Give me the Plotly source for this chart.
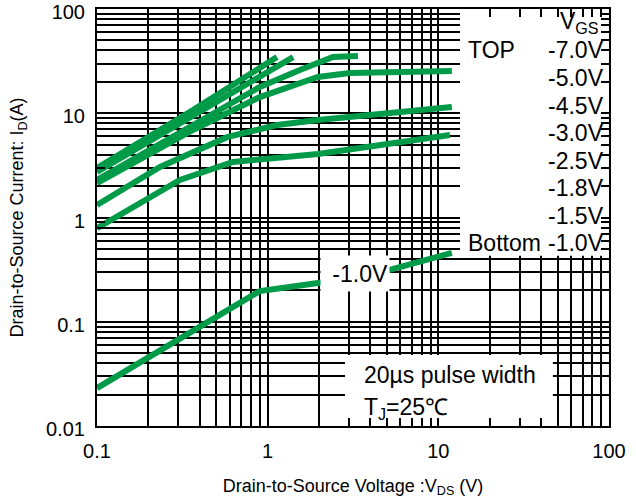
import math
import plotly.graph_objects as go

# Output characteristics (VDS in V, ID in A)
vgs_labels = ["-7.0V", "-5.0V", "-4.5V", "-3.0V", "-2.5V", "-1.8V", "-1.0V"]

vds_m70 = [0.1, 0.365, 1.134]
id_m70 = [2.98, 10.7, 34.6]

vds_m50 = [0.1, 0.365, 0.9, 1.41]
id_m50 = [2.73, 9.62, 22.3, 34.6]

vds_m45 = [0.1, 0.365, 0.9, 1.545, 1.97, 2.41, 3.38]
id_m45 = [2.29, 7.71, 17.9, 26.0, 31.0, 34.6, 35.4]

vds_m30 = [0.1, 0.365, 0.9, 1.97, 3.03, 12.0]
id_m30 = [2.14, 6.91, 14.3, 22.3, 24.3, 25.4]

vds_m25 = [0.1, 0.234, 0.578, 1.134, 1.97, 12.0]
id_m25 = [1.32, 3.05, 5.9, 7.71, 8.61, 11.5]

vds_m18 = [0.1, 0.306, 0.626, 1.97, 11.7]
id_m18 = [0.79, 2.29, 3.41, 4.06, 6.18]

vds_m10 = [0.1, 0.2, 0.9, 1.97, 4.0, 12.0]
id_m10 = [0.0231, 0.0459, 0.197, 0.235, 0.28, 0.457]

series = [
    (vds_m70, id_m70), (vds_m50, id_m50), (vds_m45, id_m45), (vds_m30, id_m30),
    (vds_m25, id_m25), (vds_m18, id_m18), (vds_m10, id_m10),
]

legend_title = "V<sub>GS</sub>"
legend_values = ["-7.0V", "-5.0V", "-4.5V", "-3.0V", "-2.5V", "-1.8V", "-1.5V", "-1.0V"]

x_major = [0.1, 1, 10, 100]
x_major_text = ["0.1", "1", "10", "100"]
y_major = [0.01, 0.1, 1, 10, 100]
y_major_text = ["0.01", "0.1", "1", "10", "100"]

GREEN = "#009B48"
FONT = "Liberation Sans, Arial, sans-serif"

fig = go.Figure()
for (xs, ys), name in zip(series, vgs_labels):
    fig.add_trace(go.Scatter(x=xs, y=ys, mode="lines", name=name,
                             line=dict(color=GREEN, width=6), showlegend=False))

axis_common = dict(
    type="log", showgrid=True, gridcolor="black", gridwidth=2,
    showline=True, linecolor="black", linewidth=2, mirror="ticks",
    ticks="inside", ticklen=8, tickwidth=2, tickcolor="black",
    tickfont=dict(family=FONT, size=20, color="black"), zeroline=False,
    automargin=False, tickangle=0, ticklabeloverflow="allow",
    minor=dict(dtick="D1", showgrid=True, gridcolor="black", gridwidth=2,
               ticks="inside", ticklen=8, tickwidth=2, tickcolor="black"),
)

fig.update_xaxes(range=[-1, 2], tickvals=x_major, ticktext=x_major_text,
                 ticklabelstandoff=6,
                 title=dict(text="Drain-to-Source Voltage :V<sub>DS</sub> (V)",
                            font=dict(family=FONT, size=18, color="black"), standoff=18),
                 **axis_common)
fig.update_yaxes(range=[-2, 2], tickvals=y_major, ticktext=y_major_text,
                 ticklabelstandoff=6, ticklabelshift=3,
                 title=dict(text="Drain-to-Source Current: I<sub>D</sub>(A)",
                            font=dict(family=FONT, size=18, color="black"), standoff=18),
                 **axis_common)

# white panels covering the grid
fig.add_shape(type="rect", xref="x", yref="y", x0=13.4, x1=100, y0=0.43, y1=100,
              fillcolor="white", line=dict(width=0), layer="between")
fig.add_shape(type="rect", xref="x", yref="y", x0=2.84, x1=46.9, y0=0.01, y1=0.048,
              fillcolor="white", line=dict(width=0), layer="between")

LF = dict(family=FONT, size=23, color="black")
T, B, L, R = 9, 426, 97, 609


def py_to_paper(py):
    return (B - py) / (B - T)


def px_to_paper(px):
    return (px - L) / (R - L)


ann_rows_y = [50, 78, 106, 133, 161, 188, 216, 243]
fig.add_annotation(x=0.985, xref="paper", xanchor="right", y=py_to_paper(22), yref="paper",
                   yanchor="middle", text=legend_title, showarrow=False, font=LF)
for val, py in zip(legend_values, ann_rows_y):
    fig.add_annotation(x=0.995, xref="paper", xanchor="right", y=py_to_paper(py), yref="paper",
                       yanchor="middle", text=val, showarrow=False, font=LF)
fig.add_annotation(x=px_to_paper(466), xref="paper", xanchor="left", y=py_to_paper(50), yref="paper",
                   yanchor="middle", text="TOP", showarrow=False, font=LF)
fig.add_annotation(x=px_to_paper(466), xref="paper", xanchor="left", y=py_to_paper(243), yref="paper",
                   yanchor="middle", text="Bottom", showarrow=False, font=LF)

# label on the -1.0V curve (log axes: annotation coords in log10 units)
fig.add_annotation(x=math.log10(3.25), y=math.log10(0.293), xref="x", yref="y", text="-1.0V",
                   showarrow=False, bgcolor="white", width=66, height=33, align="right", font=LF)

# conditions
fig.add_annotation(x=px_to_paper(362), xref="paper", xanchor="left", y=py_to_paper(375), yref="paper",
                   yanchor="middle", text="20µs pulse width", showarrow=False, font=LF)
fig.add_annotation(x=px_to_paper(362), xref="paper", xanchor="left", y=py_to_paper(408), yref="paper",
                   yanchor="middle", text="T<sub>J</sub>=25℃", showarrow=False, font=LF)

fig.update_layout(
    width=636, height=501,
    margin=dict(l=L, r=636 - R, t=T, b=501 - B),
    plot_bgcolor="white", paper_bgcolor="white",
    showlegend=False,
)

fig.write_html("out.html")
